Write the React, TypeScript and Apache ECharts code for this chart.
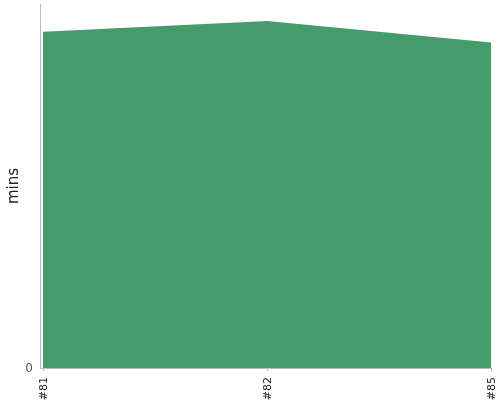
import * as echarts from 'echarts';
import { useEffect, useRef } from 'react';

const builds = ['#81', '#82', '#85'];
const durations = [92.4, 95.3, 89.4];
const yTicks = [0, 100];

function App() {
  const chartRef = useRef(null);

  useEffect(() => {
    const myChart = echarts.init(chartRef.current, null, { renderer: 'svg' });

    const option = {
      animation: false,
      textStyle: { fontFamily: 'DejaVu Sans' },
      grid: {
        left: 43,
        right: 9,
        top: 4,
        bottom: 32,
        outerBoundsMode: 'none',
      },
      xAxis: {
        type: 'category',
        data: builds,
        boundaryGap: false,
        offset: 4,
        axisLine: { lineStyle: { color: '#bbbbbb', width: 1 } },
        axisTick: { show: true, length: 3, lineStyle: { color: '#bbbbbb' } },
        axisLabel: {
          rotate: 90,
          color: '#222222',
          fontFamily: 'DejaVu Sans',
          fontSize: 11,
          margin: 5,
        },
        splitLine: { show: false },
      },
      yAxis: {
        type: 'value',
        min: yTicks[0],
        max: yTicks[1],
        interval: yTicks[1],
        offset: 3,
        name: 'mins',
        nameLocation: 'middle',
        nameGap: 20,
        nameMoveOverlap: false,
        nameTextStyle: { color: '#222222', fontSize: 15, fontFamily: 'DejaVu Sans' },
        axisLine: { show: true, lineStyle: { color: '#bbbbbb', width: 1 } },
        axisTick: { show: true, inside: true, length: 3, lineStyle: { color: '#bbbbbb' } },
        axisLabel: {
          color: '#555555',
          fontFamily: 'DejaVu Sans',
          fontSize: 12,
          margin: 7,
          showMaxLabel: false,
        },
        splitLine: { show: false },
      },
      series: [
        {
          name: 'mins',
          type: 'line',
          data: durations,
          showSymbol: false,
          lineStyle: { width: 0 },
          areaStyle: { color: '#459c6b', opacity: 1 },
          itemStyle: { color: '#459c6b' },
        },
      ],
    };

    myChart.setOption(option);

    return () => {
      myChart.dispose();
    };
  }, []);

  return (
    <div
      ref={chartRef}
      style={{ position: 'fixed', left: 0, top: 0, width: '500px', height: '400px' }}
    ></div>
  );
}

export default App;
